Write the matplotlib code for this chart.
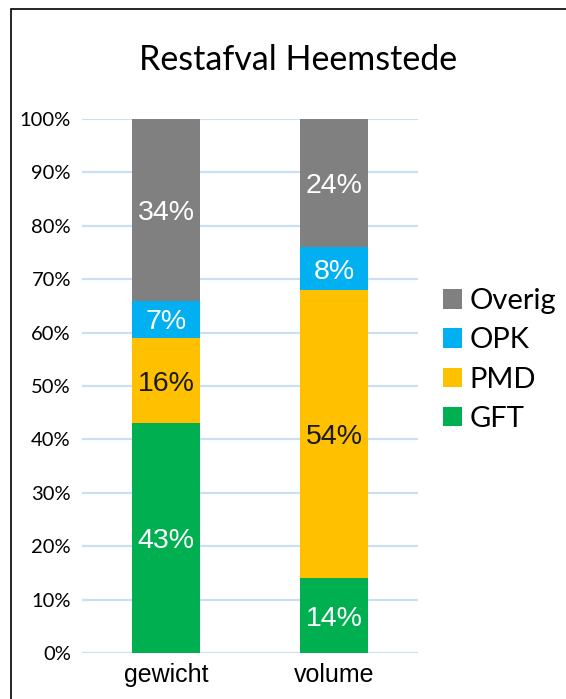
import matplotlib
matplotlib.use("Agg")
import matplotlib.pyplot as plt
from matplotlib.patches import Rectangle
import matplotlib.transforms as mtransforms
import numpy as np

categories = ["gewicht", "volume"]
series_names = ["GFT", "PMD", "OPK", "Overig"]
gft = [43, 14]
pmd = [16, 54]
opk = [7, 8]
overig = [34, 24]
colors = {"GFT": "#00B050", "PMD": "#FFC000", "OPK": "#00B0F0", "Overig": "#808080"}
label_colors = {"GFT": "white", "PMD": "#1a1a1a", "OPK": "white", "Overig": "white"}
yticks = [0, 10, 20, 30, 40, 50, 60, 70, 80, 90, 100]

W, H = 566, 699
fig = plt.figure(figsize=(W / 100, H / 100), dpi=100)
ax = fig.add_axes([82 / W, 1 - 653 / H, (418 - 82) / W, (653 - 119) / H])

x = np.arange(len(categories))
width = 68 / 168
bottom = np.zeros(len(categories))
data = {"GFT": gft, "PMD": pmd, "OPK": opk, "Overig": overig}
handles = {}
label_tr = ax.transData + mtransforms.ScaledTranslation(0, -3 / 100, fig.dpi_scale_trans)
for name in series_names:
    vals = np.array(data[name], dtype=float)
    bars = ax.bar(x, vals, width, bottom=bottom, color=colors[name], zorder=3, label=name)
    handles[name] = bars
    for xi, v, b in zip(x, vals, bottom):
        ax.text(xi, b + v / 2, f"{int(v)}%", ha="center", va="center",
                color=label_colors[name], fontsize=20.5, family="Liberation Sans",
                zorder=4, transform=label_tr)
    bottom += vals

ax.set_xlim(-0.5, 1.5)
ax.set_ylim(0, 100)
ax.set_yticks(yticks)
ax.set_yticklabels([f"{t}%" for t in yticks], family="Lato", fontsize=14.5)
ax.set_xticks(x)
ax.set_xticklabels(categories, family="Liberation Sans", fontsize=18)
ax.tick_params(axis="y", length=0, pad=8)
ax.tick_params(axis="x", length=0, pad=7)
ax.grid(axis="y", color="#C9DFF5", linewidth=1.6, zorder=0)
for s in ax.spines.values():
    s.set_visible(False)

fig.text(298 / W, 1 - 60 / H, "Restafval Heemstede", ha="center", va="center",
         family="Lato", fontsize=24.5)

order = ["Overig", "OPK", "PMD", "GFT"]
leg = fig.legend([handles[n] for n in order], order, loc="center left",
                 bbox_to_anchor=(423 / W, 1 - 360 / H), frameon=False,
                 prop={"family": "Lato", "size": 21}, handlelength=0.65,
                 handleheight=0.65, handletextpad=0.25, labelspacing=0.45,
                 borderpad=0.2)

fig.patches.append(Rectangle((11 / W, -0.1), 1.2, 1 - 9 / H + 0.1, transform=fig.transFigure,
                             fill=False, edgecolor="black", linewidth=1.2))

fig.savefig("out.png", dpi=100)
